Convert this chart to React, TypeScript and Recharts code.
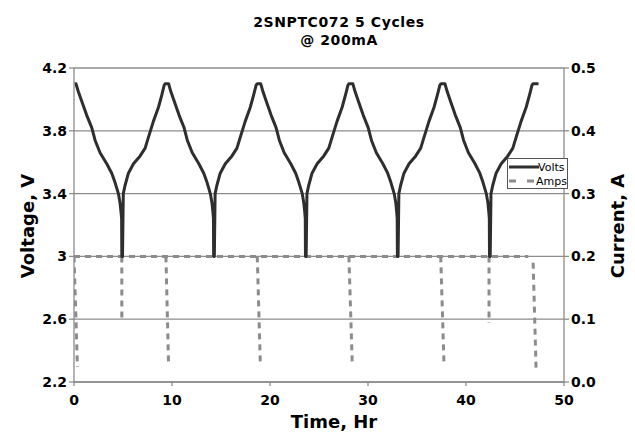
import React from 'react';
import { LineChart, Line, XAxis, YAxis, CartesianGrid } from 'recharts';

// Voltage trace, [hours, volts]
const voltsCycle1 = [
  [0.05, 4.1], [0.2, 4.1], [0.44, 4.05], [0.78, 3.99], [1.29, 3.9], [1.81, 3.82], [2.15, 3.74], [2.66, 3.66],
  [3.34, 3.59], [3.85, 3.53], [4.19, 3.47], [4.53, 3.4], [4.7, 3.34], [4.8, 3.28], [4.86, 3.24], [4.88, 3.0],
  [4.95, 3.0], [5.03, 3.4], [5.2, 3.45], [5.55, 3.53], [6.07, 3.59], [6.75, 3.64], [7.26, 3.69], [7.6, 3.76],
  [8.1, 3.86], [8.62, 3.95], [8.97, 4.03], [9.2, 4.09], [9.3, 4.1], [9.65, 4.1],
];
const voltsCycle2 = [
  [9.88, 4.05], [10.22, 3.99], [10.72, 3.9], [11.23, 3.82], [11.56, 3.74], [12.07, 3.66], [12.74, 3.59],
  [13.24, 3.53], [13.58, 3.47], [13.91, 3.4], [14.08, 3.34], [14.18, 3.28], [14.23, 3.24], [14.25, 3.0],
  [14.32, 3.0], [14.4, 3.4], [14.57, 3.45], [14.92, 3.53], [15.44, 3.59], [16.12, 3.64], [16.63, 3.69],
  [16.97, 3.76], [17.47, 3.86], [17.99, 3.95], [18.34, 4.03], [18.58, 4.09], [18.7, 4.1], [19.05, 4.1],
];
const voltsCycle3 = [
  [19.28, 4.05], [19.61, 3.99], [20.11, 3.9], [20.62, 3.82], [20.95, 3.74], [21.45, 3.66], [22.12, 3.59],
  [22.62, 3.53], [22.95, 3.47], [23.29, 3.4], [23.45, 3.34], [23.55, 3.28], [23.6, 3.24], [23.62, 3.0],
  [23.69, 3.0], [23.77, 3.4], [23.94, 3.45], [24.29, 3.53], [24.81, 3.59], [25.49, 3.64], [26.0, 3.69],
  [26.34, 3.76], [26.84, 3.86], [27.36, 3.95], [27.71, 4.03], [27.95, 4.09], [28.05, 4.1], [28.45, 4.1],
];
const voltsCycle4 = [
  [28.68, 4.05], [29.01, 3.99], [29.51, 3.9], [30.02, 3.82], [30.35, 3.74], [30.85, 3.66], [31.52, 3.59],
  [32.01, 3.53], [32.34, 3.47], [32.67, 3.4], [32.84, 3.34], [32.93, 3.28], [32.98, 3.24], [33.0, 3.0],
  [33.07, 3.0], [33.15, 3.4], [33.32, 3.45], [33.67, 3.53], [34.19, 3.59], [34.87, 3.64], [35.38, 3.69],
  [35.72, 3.76], [36.22, 3.86], [36.74, 3.95], [37.09, 4.03], [37.33, 4.09], [37.45, 4.1], [37.85, 4.1],
];
const voltsCycle5 = [
  [38.08, 4.05], [38.41, 3.99], [38.91, 3.9], [39.42, 3.82], [39.75, 3.74], [40.25, 3.66], [40.92, 3.59],
  [41.41, 3.53], [41.74, 3.47], [42.07, 3.4], [42.24, 3.34], [42.33, 3.28], [42.38, 3.24], [42.4, 3.0],
  [42.47, 3.0], [42.55, 3.4], [42.72, 3.45], [43.07, 3.53], [43.59, 3.59], [44.27, 3.64], [44.78, 3.69],
  [45.12, 3.76], [45.62, 3.86], [46.14, 3.95], [46.49, 4.03], [46.73, 4.09], [46.85, 4.1], [47.4, 4.1],
];

// Current, [hours, amps]: the constant 200mA run plus the separate drop/taper segments
const ampsRun = [[0, 0.2], [46.35, 0.2]];
const ampsSegments = [
  [[0.0, 0.2], [0.35, 0.024]],
  [[4.88, 0.2], [4.88, 0.1]],
  [[9.38, 0.2], [9.65, 0.027]],
  [[18.7, 0.2], [19.02, 0.025]],
  [[28.05, 0.2], [28.4, 0.025]],
  [[37.42, 0.2], [37.76, 0.025]],
  [[42.35, 0.2], [42.35, 0.094]],
  [[46.85, 0.19], [47.15, 0.022]],
];

const timeTicks = [0, 10, 20, 30, 40, 50];
const voltTicks = [2.2, 2.6, 3, 3.4, 3.8, 4.2];
const ampTicks = [0, 0.1, 0.2, 0.3, 0.4, 0.5];

const voltsData = [...voltsCycle1, ...voltsCycle2, ...voltsCycle3, ...voltsCycle4, ...voltsCycle5].map(([t, v]) => ({ t, v }));

const ampsData: { t: number; a: number | null }[] = [];
[ampsRun, ...ampsSegments].forEach((seg) => {
  seg.forEach(([t, a]) => ampsData.push({ t, a }));
  ampsData.push({ t: seg[seg.length - 1][0], a: null });
});

const tickStyle = { fill: '#000', fontSize: 14, fontWeight: 'bold' as const, fontFamily: 'DejaVu Sans' };
const gray = '#8c8c8c';

const LegendBox = () => (
  <div style={{ position: 'absolute', left: 507, top: 158, width: 61, height: 31, border: '1px solid #555', background: '#fff', fontFamily: 'DejaVu Sans', fontSize: 11, color: '#000', boxSizing: 'border-box' }}>
    <div style={{ display: 'flex', alignItems: 'center', height: 14, marginTop: 1 }}>
      <svg width={30} height={6} style={{ marginLeft: 1 }}>
        <line x1={0} y1={3} x2={30} y2={3} stroke="#2e2e2e" strokeWidth={3} />
      </svg>
      <span style={{ marginLeft: -1 }}>Volts</span>
    </div>
    <div style={{ display: 'flex', alignItems: 'center', height: 14 }}>
      <svg width={30} height={6} style={{ marginLeft: 1 }}>
        <line x1={0} y1={3} x2={30} y2={3} stroke={gray} strokeWidth={3} strokeDasharray="7 11" />
      </svg>
      <span style={{ marginLeft: 2 }}>Amps</span>
    </div>
  </div>
);

const axisTitle: React.CSSProperties = {
  position: 'absolute', fontFamily: 'DejaVu Sans', fontWeight: 'bold', fontSize: 18, color: '#000', whiteSpace: 'nowrap',
};

export default function App() {
  return (
    <div style={{ position: 'absolute', left: 0, top: 0, width: 635, height: 442, background: '#fff' }}>
      <div style={{ position: 'absolute', left: 0, width: 678, top: 13, textAlign: 'center', fontFamily: 'DejaVu Sans', fontWeight: 'bold', fontSize: 14, lineHeight: '18px', letterSpacing: 0.6, color: '#000' }}>
        <div>2SNPTC072 5 Cycles</div>
        <div>@ 200mA</div>
      </div>
      <LineChart width={635} height={442} margin={{ top: 68, right: 0, bottom: 0, left: 0 }}>
        <CartesianGrid yAxisId="v" vertical={false} stroke={gray} strokeWidth={1.3} />
        <XAxis
          dataKey="t" type="number" domain={[0, 50]} ticks={timeTicks} allowDataOverflow
          height={60} tick={tickStyle} tickSize={4} tickMargin={9} stroke={gray} strokeWidth={1.3}
        />
        <YAxis
          yAxisId="v" domain={[2.2, 4.2]} ticks={voltTicks} allowDataOverflow
          width={74} tick={tickStyle} tickSize={5} tickMargin={2} stroke={gray} strokeWidth={1.3}
          tickFormatter={(v: number) => String(v)}
        />
        <YAxis
          yAxisId="a" orientation="right" domain={[0, 0.5]} ticks={ampTicks} allowDataOverflow
          width={71} tick={tickStyle} tickSize={5} tickMargin={2} stroke={gray} strokeWidth={1.3}
          tickFormatter={(v: number) => v.toFixed(1)}
        />
        <Line
          yAxisId="a" data={ampsData} dataKey="a" name="Amps" stroke={gray} strokeWidth={3}
          strokeDasharray="6 5" dot={false} activeDot={false} isAnimationActive={false}
        />
        <Line
          yAxisId="v" data={voltsData} dataKey="v" name="Volts" stroke="#2e2e2e" strokeWidth={3}
          strokeLinejoin="round" dot={false} activeDot={false} isAnimationActive={false}
        />
      </LineChart>
      <LegendBox />
      <div style={{ ...axisTitle, left: 334, top: 421, transform: 'translate(-50%, -50%)' }}>Time, Hr</div>
      <div style={{ ...axisTitle, left: 27, top: 226, transform: 'translate(-50%, -50%) rotate(-90deg)' }}>Voltage, V</div>
      <div style={{ ...axisTitle, left: 617, top: 226, transform: 'translate(-50%, -50%) rotate(-90deg)' }}>Current, A</div>
    </div>
  );
}
